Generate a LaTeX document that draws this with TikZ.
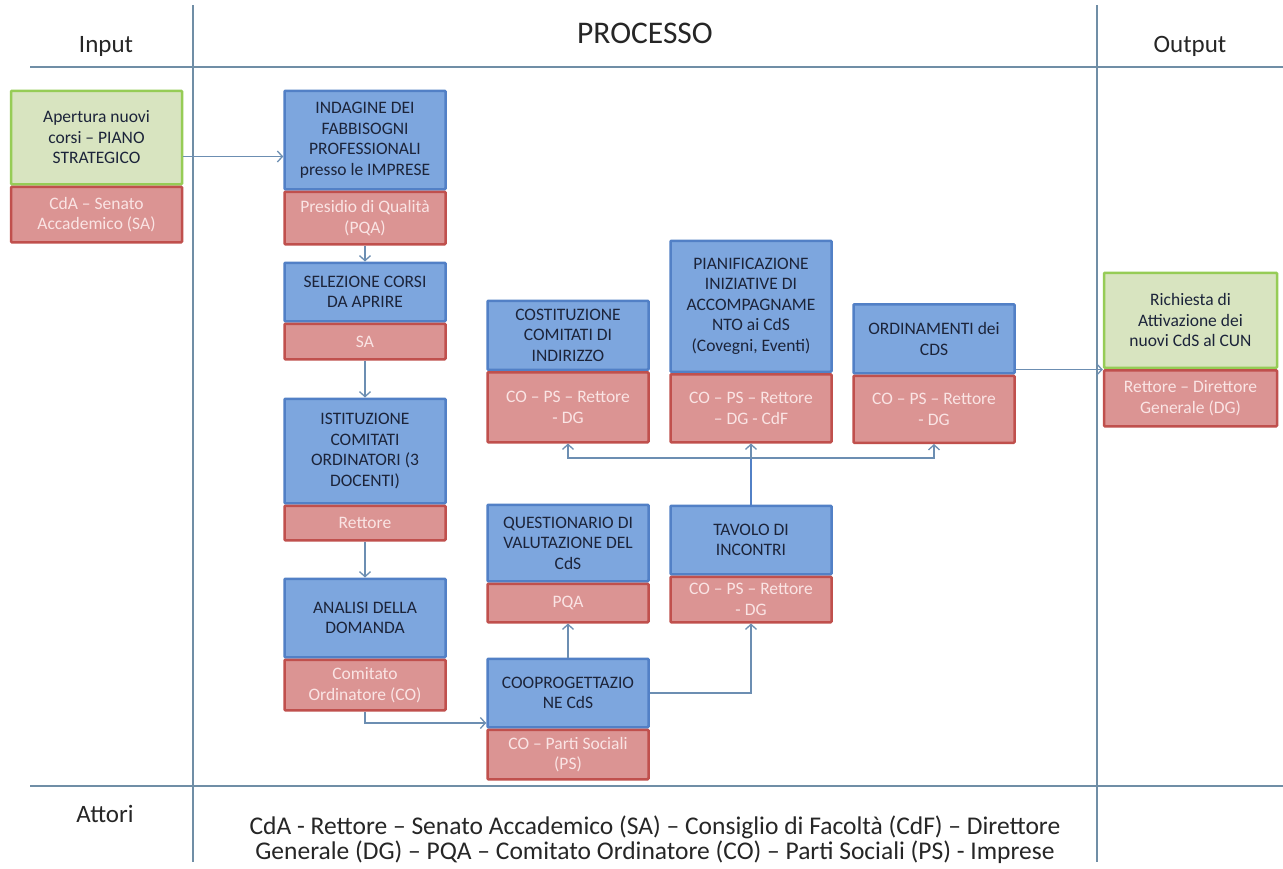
\documentclass[tikz,border=0pt]{standalone}
\usepackage{fontspec}
\setmainfont{Carlito}
\usetikzlibrary{positioning, arrows.meta}
\definecolor{cdsblue}{RGB}{125,166,222}
\definecolor{cdsblueline}{RGB}{82,128,198}
\definecolor{cdsred}{RGB}{219,148,147}
\definecolor{cdsredline}{RGB}{192,80,77}
\definecolor{cdsgreen}{RGB}{216,228,192}
\definecolor{cdsgreenline}{RGB}{150,204,86}
\definecolor{cdslink}{RGB}{108,142,178}
\definecolor{cdsgrid}{RGB}{112,142,166}
\definecolor{cdsink}{RGB}{28,36,58}
\definecolor{cdspale}{RGB}{250,228,228}

\begin{document}
\begin{tikzpicture}[x=1pt, y=-1pt,
    boxtext/.style={align=center, inner sep=0pt, minimum width=161pt, anchor=north,
        line width=2.5pt, rounded corners=1pt, font=\fontsize{17.5}{20.5}\selectfont},
    bluetop/.style={boxtext, draw=cdsblueline, fill=cdsblue, text=cdsink},
    greentop/.style={boxtext, draw=cdsgreenline, fill=cdsgreen, text=cdsink, minimum width=171pt},
    redbot/.style={boxtext, draw=cdsredline, fill=cdsred, text=cdspale},
    link/.style={draw=cdslink, line width=1.3pt, -{Straight Barb[length=5pt, width=11pt]}},
    trunk/.style={draw=cdsblueline, line width=2pt},
    grid/.style={draw=cdsgrid, line width=1.3pt},
    header/.style={font=\fontsize{25}{30}\selectfont, text=black!85}]
    \useasboundingbox [fill=white] (0,0) rectangle (1283,868);

    \draw [grid] (193,5) -- (193,862);
    \draw [grid] (1097,5) -- (1097,862);
    \draw [grid] (30,67) -- (1283,67);
    \draw [grid] (30,786) -- (1283,786);

    \node (hdrin) [header] at (106,46) {Input};
    \node (hdrproc) [header, font=\fontsize{31.5}{36}\selectfont] at (645,33) {PROCESSO};
    \node (hdrout) [header] at (1190,46) {Output};
    \node (hdractor) [header] at (105,814) {Attori};
    \node (actors) [font=\fontsize{25.5}{25}\selectfont, align=center, text=black!85] at (655,840)
        {CdA - Rettore – Senato Accademico (SA) – Consiglio di Facoltà (CdF) – Direttore\\
         Generale (DG) – PQA – Comitato Ordinatore (CO) – Parti Sociali (PS) - Imprese};

    \node (inpT) [greentop, minimum height=93.5pt] at (96.5,89.5) {Apertura nuovi\\corsi – PIANO\\STRATEGICO};
    \node (inpB) [redbot, minimum width=171pt, minimum height=55.5pt, below=0pt of inpT] {CdA – Senato\\Accademico (SA)};

    \node (indT) [bluetop, minimum height=98.5pt] at (365,89.5) {INDAGINE DEI\\FABBISOGNI\\PROFESSIONALI\\presso le IMPRESE};
    \node (indB) [redbot, minimum height=52.5pt, below=0pt of indT] {Presidio di Qualità\\(PQA)};

    \node (selT) [bluetop, minimum height=58.5pt] at (365,261.5) {SELEZIONE CORSI\\DA APRIRE};
    \node (selB) [redbot, minimum height=35.5pt, below=0pt of selT] {SA};

    \node (istT) [bluetop, minimum height=104.5pt] at (365,397.5) {ISTITUZIONE\\COMITATI\\ORDINATORI (3\\DOCENTI)};
    \node (istB) [redbot, minimum height=34.5pt, below=0pt of istT] {Rettore};

    \node (anaT) [bluetop, minimum height=78.5pt] at (365,577.5) {ANALISI DELLA\\DOMANDA};
    \node (anaB) [redbot, minimum height=50.5pt, below=0pt of anaT] {Comitato\\Ordinatore (CO)};

    \node (coopT) [bluetop, minimum height=68.5pt] at (568,657.5) {COOPROGETTAZIO\\NE CdS};
    \node (coopB) [redbot, minimum height=49.5pt, below=0pt of coopT] {CO – Parti Sociali\\(PS)};

    \node (queT) [bluetop, minimum height=76.5pt] at (568,503.5) {QUESTIONARIO DI\\VALUTAZIONE DEL\\CdS};
    \node (queB) [redbot, minimum height=38.5pt, below=0pt of queT] {PQA};

    \node (tavT) [bluetop, minimum height=68.5pt] at (751,504.5) {TAVOLO DI\\INCONTRI};
    \node (tavB) [redbot, minimum height=45.5pt, below=0pt of tavT] {CO – PS – Rettore\\- DG};

    \node (cosT) [bluetop, minimum height=69pt] at (568,299.5) {COSTITUZIONE\\COMITATI DI\\INDIRIZZO};
    \node (cosB) [redbot, minimum height=70pt, below=0pt of cosT] {CO – PS – Rettore\\- DG};

    \node (pianT) [bluetop, minimum height=131pt] at (751,239.5) {PIANIFICAZIONE\\INIZIATIVE DI\\ACCOMPAGNAME\\NTO ai CdS\\(Covegni, Eventi)};
    \node (pianB) [redbot, minimum height=68pt, below=0pt of pianT] {CO – PS – Rettore\\– DG - CdF};

    \node (ordT) [bluetop, minimum height=69pt] at (934,303) {ORDINAMENTI dei\\CDS};
    \node (ordB) [redbot, minimum height=67pt, below=0pt of ordT] {CO – PS – Rettore\\- DG};

    \node (outT) [greentop, minimum width=173pt, minimum height=95pt] at (1190.5,271.5) {Richiesta di\\Attivazione dei\\nuovi CdS al CUN};
    \node (outB) [redbot, minimum width=173pt, minimum height=56pt, below=0pt of outT] {Rettore – Direttore\\Generale (DG)};

    \path ([yshift=-19pt]inpT.east) coordinate (inpexit);
    \draw [link] (inpexit) -- (inpexit -| indT.west);
    \draw [link] (indB.south) -- (selT.north);
    \draw [link] (selB.south) -- (istT.north);
    \draw [link] (istB.south) -- (anaT.north);
    \path ([yshift=-30pt]coopT.west) coordinate (coopentry);
    \draw [link] (anaB.south) |- (coopentry);
    \draw [link] (coopT.north) -- (queB.south);
    \draw [link] (coopT.east) -| (tavB.south);

    \coordinate (hub) at (751,458);
    \draw [trunk] (tavT.north) -- (hub);
    \draw [link] (hub) -- (pianB.south);
    \draw [link] (hub) -| (cosB.south);
    \draw [link] (hub) -| (ordB.south);
    \path ([yshift=5pt]ordT.south east) coordinate (ordexit);
    \draw [link] (ordexit) -- (ordexit -| outT.west);
\end{tikzpicture}
\end{document}
